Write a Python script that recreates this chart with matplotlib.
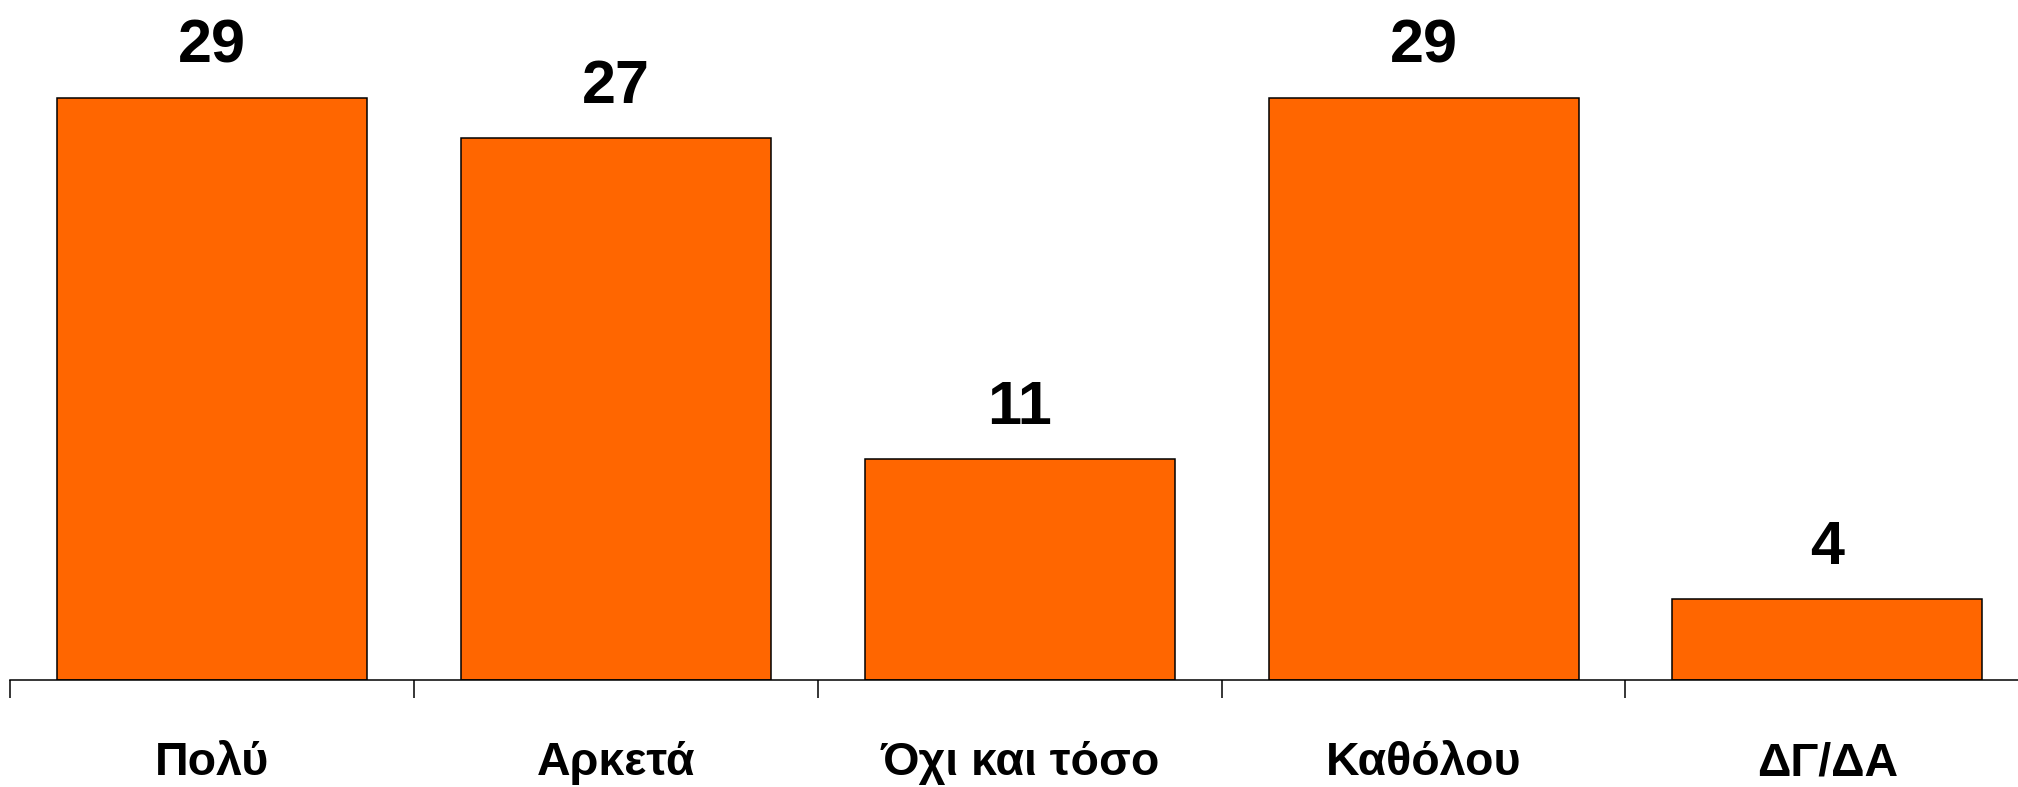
import matplotlib
matplotlib.use("Agg")
import matplotlib.pyplot as plt
import matplotlib.transforms as mtransforms

# Survey responses (%)
categories = ["Πολύ", "Αρκετά", "Όχι και τόσο", "Καθόλου", "ΔΓ/ΔΑ"]
values = [29, 27, 11, 29, 4]

BAR_COLOR = "#FF6600"
FONT = ["Liberation Sans", "DejaVu Sans"]

W, H, DPI = 2018, 787, 100
fig = plt.figure(figsize=(W / DPI, H / DPI), dpi=DPI)
fig.patch.set_facecolor("white")

# Axes span: left edge at the first category boundary, baseline near the bottom
base_px = 679.6
cat_px = 403.8
left_px = 10.3
ax = fig.add_axes([left_px / W, (H - base_px) / H, len(categories) * cat_px / W, base_px / H])
ax.set_facecolor("white")

x = list(range(len(categories)))
ax.bar(x, values, width=0.768, color=BAR_COLOR, edgecolor="black", linewidth=1.1, zorder=2)

ax.set_xlim(-0.5, len(categories) - 0.5)
ax.set_ylim(0, 33.88)

for side in ("top", "right", "left"):
    ax.spines[side].set_visible(False)
ax.spines["bottom"].set_linewidth(1.1)
ax.spines["bottom"].set_zorder(3)
ax.set_yticks([])

# Separator ticks between categories
ax.set_xticks([i - 0.5 for i in range(len(categories))])
ax.set_xticklabels([])
ax.tick_params(axis="x", direction="out", length=13, width=1.1, color="black")

# Value labels above bars
for xi, v in zip(x, values):
    ax.annotate(str(v), xy=(xi, v), xytext=(0, 25.5), textcoords="offset points",
                ha="center", va="baseline", fontsize=44, fontweight="bold",
                family=FONT, color="black")

# Category labels below the axis
trans = mtransforms.blended_transform_factory(ax.transData, fig.transFigure)
for xi, lab in zip(x, categories):
    ax.text(xi, (H - 775) / H, lab, transform=trans, ha="center", va="baseline",
            fontsize=33.5, fontweight="bold", family=FONT, color="black", clip_on=False)

fig.savefig("out.png", dpi=DPI, facecolor="white")
